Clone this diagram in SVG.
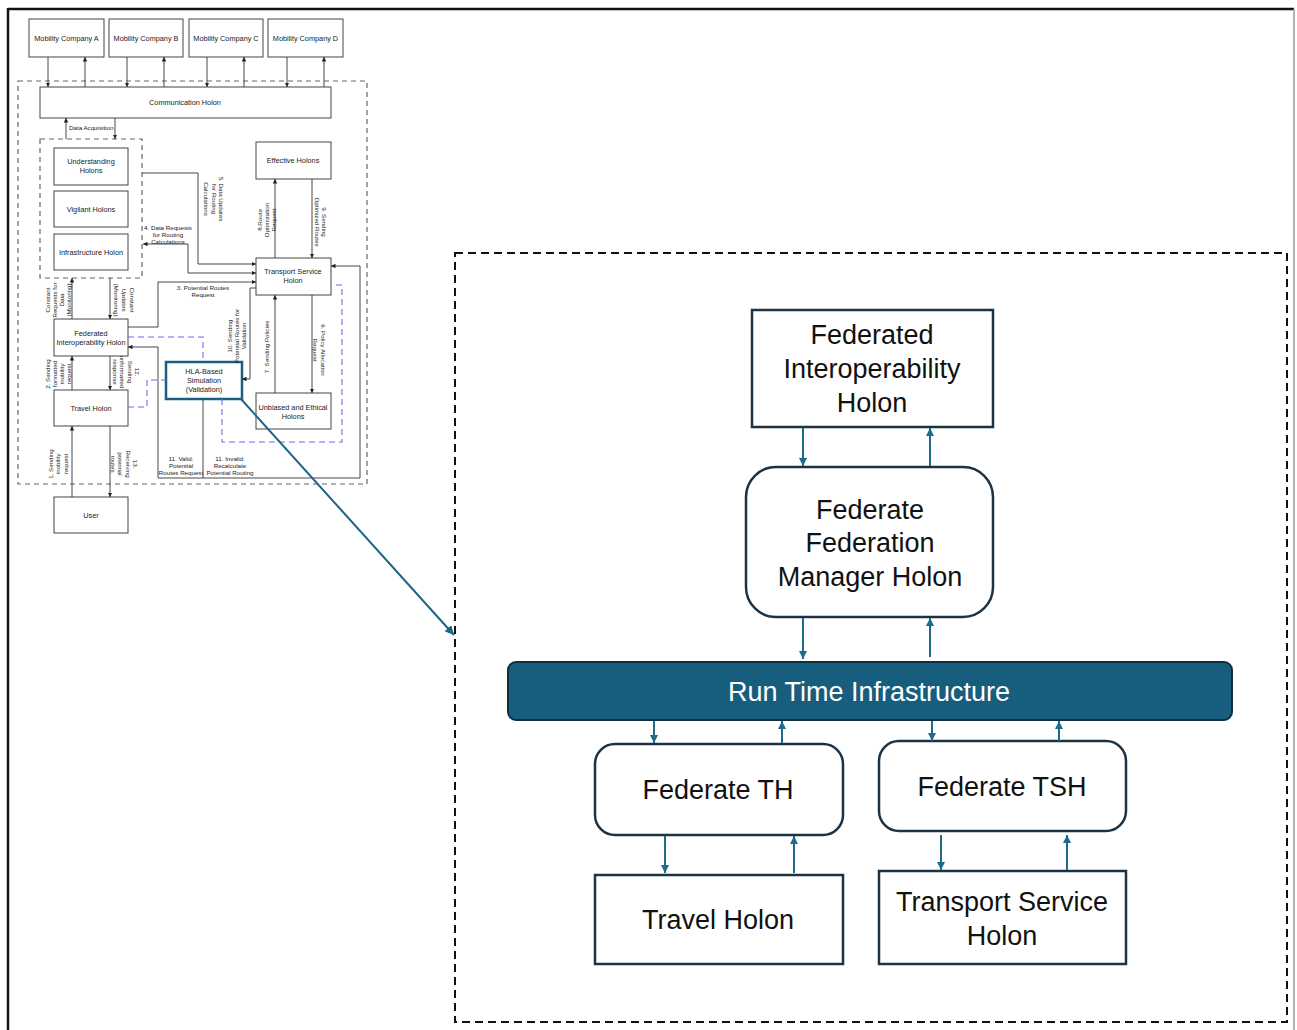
<svg xmlns="http://www.w3.org/2000/svg" width="1297" height="1030" viewBox="0 0 1297 1030">
<style>
.bx{fill:#fff;stroke:#444;stroke-width:1}
.t{font-family:"Liberation Sans",Arial,sans-serif;font-size:7.3px;fill:#222;text-anchor:middle}
.ts{font-family:"Liberation Sans",Arial,sans-serif;font-size:6.2px;fill:#222;text-anchor:middle}
.c{fill:none;stroke:#333;stroke-width:0.9}
.ca{fill:none;stroke:#333;stroke-width:0.9;marker-end:url(#ah)}
.bd{fill:none;stroke:#6f6cf4;stroke-width:1.1;stroke-dasharray:6,4}
.gd{fill:none;stroke:#666;stroke-width:1.2;stroke-dasharray:5,4}
.rb{fill:#fff;stroke:#1c3346;stroke-width:2.5}
.rt{font-family:"Liberation Sans",Arial,sans-serif;font-size:27px;fill:#111;text-anchor:middle}
.ra{fill:none;stroke:#1d6b8a;stroke-width:2;marker-end:url(#ta)}
</style>
<defs>
<marker id="ah" viewBox="0 0 10 10" refX="10" refY="5" markerWidth="4.5" markerHeight="4.5" markerUnits="userSpaceOnUse" orient="auto-start-reverse"><path d="M0,0 L10,5 L0,10 z" fill="#222"/></marker>
<marker id="ta" viewBox="0 0 10 10" refX="10" refY="5" markerWidth="9" markerHeight="8" markerUnits="userSpaceOnUse" orient="auto"><path d="M0,0 L10,5 L0,10 z" fill="#1d6b8a"/></marker>
<marker id="tb" viewBox="0 0 10 10" refX="10" refY="5" markerWidth="10" markerHeight="9" markerUnits="userSpaceOnUse" orient="auto"><path d="M0,0 L10,5 L0,10 z" fill="#1b6585"/></marker>
</defs>

<g id="frame">
<line x1="8" y1="9" x2="1294" y2="9" stroke="#111" stroke-width="2.5"/>
<line x1="8" y1="8" x2="8" y2="1030" stroke="#111" stroke-width="2.5"/>
<line x1="1294" y1="9" x2="1294" y2="1030" stroke="#999" stroke-width="1.5"/>
</g>

<!-- Left overview diagram -->
<g id="left-containers">
<rect x="18" y="81" width="349" height="403" class="gd"/>
<rect x="40" y="139" width="102" height="139" class="gd"/>
</g>

<g id="mobility-a"><rect x="29" y="19" width="75" height="38" class="bx"/><text class="t" x="66.5" y="40.5">Mobility Company A</text></g>
<g id="mobility-b"><rect x="109" y="19" width="74" height="38" class="bx"/><text class="t" x="146" y="40.5">Mobility Company B</text></g>
<g id="mobility-c"><rect x="189" y="19" width="74" height="38" class="bx"/><text class="t" x="226" y="40.5">Mobility Company C</text></g>
<g id="mobility-d"><rect x="268" y="19" width="75" height="38" class="bx"/><text class="t" x="305.5" y="40.5">Mobility Company D</text></g>
<g id="communication-holon"><rect x="40" y="87" width="291" height="31" class="bx"/><text class="t" x="185" y="104.5">Communication Holon</text></g>
<g id="understanding-holons"><rect x="54" y="148" width="74" height="37" class="bx"/><text class="t" x="91" y="164">Understanding</text><text class="t" x="91" y="173">Holons</text></g>
<g id="vigilant-holons"><rect x="54" y="191" width="74" height="36" class="bx"/><text class="t" x="91" y="211.5">Vigilant Holons</text></g>
<g id="infrastructure-holon"><rect x="54" y="234" width="74" height="36" class="bx"/><text class="t" x="91" y="254.5">Infrastructure Holon</text></g>
<g id="effective-holons"><rect x="256" y="142" width="75" height="37" class="bx"/><text class="t" x="293" y="162.5">Effective Holons</text></g>
<g id="transport-service-holon-l"><rect x="256" y="258" width="75" height="37" class="bx"/><text class="t" x="293" y="274">Transport Service</text><text class="t" x="293" y="283">Holon</text></g>
<g id="federated-interop-holon-l"><rect x="54" y="319" width="74" height="37" class="bx"/><text class="t" x="91" y="335.5">Federated</text><text class="t" x="91" y="344.5">Interoperability Holon</text></g>
<g id="hla-simulation"><rect x="166" y="362" width="76" height="37" fill="#fff" stroke="#1b5f7e" stroke-width="2.5"/><text class="t" x="204" y="373.5">HLA-Based</text><text class="t" x="204" y="382.5">Simulation</text><text class="t" x="204" y="391.5">(Validation)</text></g>
<g id="travel-holon-l"><rect x="54" y="390" width="74" height="36" class="bx"/><text class="t" x="91" y="410.5">Travel Holon</text></g>
<g id="unbiased-ethical-holons"><rect x="256" y="393" width="75" height="36" class="bx"/><text class="t" x="293" y="409.5">Unbiased and Ethical</text><text class="t" x="293" y="418.5">Holons</text></g>
<g id="user"><rect x="54" y="497" width="74" height="36" class="bx"/><text class="t" x="91" y="517.5">User</text></g>

<g id="left-connectors">
<line class="ca" x1="48" y1="57" x2="48" y2="87"/><line class="ca" x1="85" y1="87" x2="85" y2="57"/>
<line class="ca" x1="127" y1="57" x2="127" y2="87"/><line class="ca" x1="164" y1="87" x2="164" y2="57"/>
<line class="ca" x1="207" y1="57" x2="207" y2="87"/><line class="ca" x1="244" y1="87" x2="244" y2="57"/>
<line class="ca" x1="287" y1="57" x2="287" y2="87"/><line class="ca" x1="324" y1="87" x2="324" y2="57"/>
<line class="ca" x1="66" y1="139" x2="66" y2="118"/><line class="ca" x1="115" y1="118" x2="115" y2="139"/>
<line class="ca" x1="72" y1="319" x2="72" y2="278"/><line class="ca" x1="110" y1="278" x2="110" y2="319"/>
<line class="ca" x1="72" y1="390" x2="72" y2="356"/><line class="ca" x1="110" y1="356" x2="110" y2="390"/>
<line class="ca" x1="72" y1="497" x2="72" y2="426"/><line class="ca" x1="110" y1="426" x2="110" y2="497"/>
<line class="ca" x1="275" y1="258" x2="275" y2="179"/><line class="ca" x1="312" y1="179" x2="312" y2="258"/>
<line class="ca" x1="275" y1="393" x2="275" y2="295"/><line class="ca" x1="312" y1="295" x2="312" y2="393"/>
<polyline class="ca" points="142,173 198,173 198,264 256,264"/>
<polyline class="ca" points="143,244 188,244 188,273 256,273" style="marker-start:url(#ah)"/>
<polyline class="ca" points="128,327 158,327 158,282 256,282"/>
<polyline class="ca" points="256,288 250,288 250,379 242,379"/>
<polyline class="ca" points="203,399 203,478 158,478 158,347 128,347"/>
<polyline class="ca" points="203,478 360,478 360,266 331,266"/>
<polyline class="bd" points="128,337 203,337 203,362"/>
<polyline class="bd" points="128,407 147,407 147,380 166,380"/>
<polyline class="bd" points="222,399 222,442 342,442 342,285 331,285"/>
<line x1="241" y1="399" x2="454" y2="635" stroke="#1b6585" stroke-width="2" marker-end="url(#tb)"/>
</g>

<g id="left-labels">
<text class="ts" x="69" y="129.5" style="text-anchor:start">Data Acquisition</text>
<text class="ts" x="168" y="229.5">4. Data Requests</text><text class="ts" x="168" y="236.5">for Routing</text><text class="ts" x="168" y="243.5">Calculations</text>
<text class="ts" x="203" y="289.5">3. Potential Routes</text><text class="ts" x="203" y="297">Request</text>
<text class="ts" x="181" y="461">11. Valid:</text><text class="ts" x="181" y="468">Potential</text><text class="ts" x="181" y="475">Routes Request</text>
<text class="ts" x="230" y="461">11. Invalid:</text><text class="ts" x="230" y="468">Recalculate</text><text class="ts" x="230" y="475">Potential Routing</text>
<text class="ts" transform="translate(219,199) rotate(90)"><tspan x="0" dy="0">5. Data Updates</tspan><tspan x="0" dy="7.5">for Routing</tspan><tspan x="0" dy="7.5">Calculations</tspan></text>
<text class="ts" transform="translate(261.5,220) rotate(-90)"><tspan x="0" dy="0">8.Route</tspan><tspan x="0" dy="7">Optimization</tspan><tspan x="0" dy="7">Request</tspan></text>
<text class="ts" transform="translate(322,222) rotate(90)"><tspan x="0" dy="0">9. Sending</tspan><tspan x="0" dy="7.5">Optimized Routes</tspan></text>
<text class="ts" transform="translate(49.5,300) rotate(-90)"><tspan x="0" dy="0">Constant</tspan><tspan x="0" dy="7">Requests for</tspan><tspan x="0" dy="7">Data</tspan><tspan x="0" dy="7">(Monitoring)</tspan></text>
<text class="ts" transform="translate(130,300) rotate(90)"><tspan x="0" dy="0">Constant</tspan><tspan x="0" dy="8">Updates</tspan><tspan x="0" dy="8">(Monitoring)</tspan></text>
<text class="ts" transform="translate(49.5,374) rotate(-90)"><tspan x="0" dy="0">2. Sending</tspan><tspan x="0" dy="7.3">formatted</tspan><tspan x="0" dy="7.3">mobility</tspan><tspan x="0" dy="7.3">request</tspan></text>
<text class="ts" transform="translate(135,372) rotate(90)"><tspan x="0" dy="0">12.</tspan><tspan x="0" dy="7.3">Sending</tspan><tspan x="0" dy="7.3">unformatted</tspan><tspan x="0" dy="7.3">response</tspan></text>
<text class="ts" transform="translate(52.5,464) rotate(-90)"><tspan x="0" dy="0">1. Sending</tspan><tspan x="0" dy="7.5">mobility</tspan><tspan x="0" dy="7.5">request</tspan></text>
<text class="ts" transform="translate(133,464) rotate(90)"><tspan x="0" dy="0">13.</tspan><tspan x="0" dy="7.3">Receiving</tspan><tspan x="0" dy="7.3">potential</tspan><tspan x="0" dy="7.3">routes</tspan></text>
<text class="ts" transform="translate(231.5,336) rotate(-90)"><tspan x="0" dy="0">10. Sending</tspan><tspan x="0" dy="7">Potential Routes for</tspan><tspan x="0" dy="7">Validation</tspan></text>
<text class="ts" transform="translate(268.5,347) rotate(-90)">7. Sending Policies</text>
<text class="ts" transform="translate(321,350) rotate(90)"><tspan x="0" dy="0">6. Policy Allocation</tspan><tspan x="0" dy="8">Request</tspan></text>
</g>

<!-- Right zoomed panel -->
<g id="zoom-panel"><rect x="455" y="253" width="832" height="769" fill="none" stroke="#111" stroke-width="2" stroke-dasharray="8,5"/></g>

<g id="r-federated-interop-holon"><rect x="752" y="310" width="241" height="117" class="rb"/><text class="rt" x="872" y="344">Federated</text><text class="rt" x="872" y="378">Interoperability</text><text class="rt" x="872" y="412">Holon</text></g>
<g id="r-federate-fed-manager"><rect x="746" y="467" width="247" height="150" rx="30" class="rb"/><text class="rt" x="870" y="519">Federate</text><text class="rt" x="870" y="552">Federation</text><text class="rt" x="870" y="586">Manager Holon</text></g>
<g id="r-rti"><rect x="508" y="662" width="724" height="58" rx="8" fill="#175e7e" stroke="#0e2f40" stroke-width="2"/><text class="rt" x="869" y="701" style="fill:#fff">Run Time Infrastructure</text></g>
<g id="r-federate-th"><rect x="595" y="744" width="248" height="91" rx="20" class="rb"/><text class="rt" x="718" y="799">Federate TH</text></g>
<g id="r-federate-tsh"><rect x="879" y="741" width="247" height="90" rx="20" class="rb"/><text class="rt" x="1002" y="796">Federate TSH</text></g>
<g id="r-travel-holon"><rect x="595" y="875" width="248" height="89" class="rb"/><text class="rt" x="718" y="929">Travel Holon</text></g>
<g id="r-transport-service-holon"><rect x="879" y="871" width="247" height="93" class="rb"/><text class="rt" x="1002" y="911">Transport Service</text><text class="rt" x="1002" y="945">Holon</text></g>

<g id="right-connectors">
<line class="ra" x1="803" y1="428" x2="803" y2="466"/><line class="ra" x1="930" y1="466" x2="930" y2="428"/>
<line class="ra" x1="803" y1="618" x2="803" y2="659"/><line class="ra" x1="930" y1="657" x2="930" y2="618"/>
<line class="ra" x1="654" y1="721" x2="654" y2="743"/><line class="ra" x1="782" y1="743" x2="782" y2="721"/>
<line class="ra" x1="932" y1="721" x2="932" y2="741"/><line class="ra" x1="1059" y1="741" x2="1059" y2="721"/>
<line class="ra" x1="665" y1="836" x2="665" y2="873"/><line class="ra" x1="794" y1="873" x2="794" y2="836"/>
<line class="ra" x1="941" y1="835" x2="941" y2="870"/><line class="ra" x1="1067" y1="870" x2="1067" y2="835"/>
</g>
</svg>
